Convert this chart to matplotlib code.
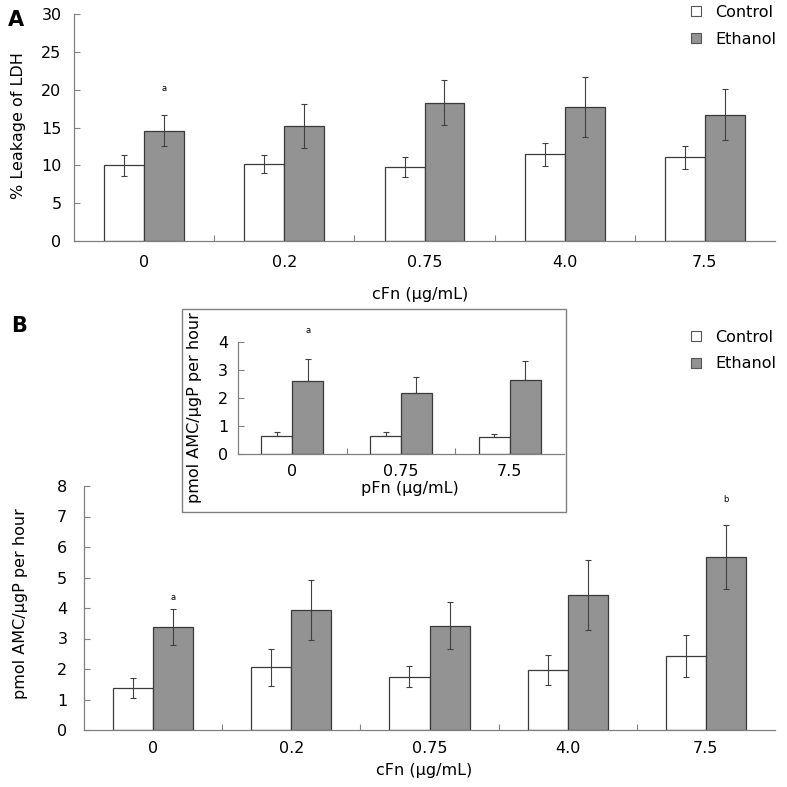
import numpy as np
import matplotlib.pyplot as plt
from matplotlib.patches import Patch, Rectangle

plt.rcParams.update({"font.family": "DejaVu Sans", "font.size": 11.5})

W = H = 787.0
GRAY_AXIS = "#808080"
BAR_EDGE = "#3a3a3a"
ETH_FILL = "#939393"
ERR_COL = "#404040"

# Panel A: % leakage of LDH vs cFn
conc_a = ["0", "0.2", "0.75", "4.0", "7.5"]
ldh_control = [10.0, 10.2, 9.8, 11.45, 11.05]
ldh_control_err = [1.4, 1.2, 1.3, 1.55, 1.55]
ldh_ethanol = [14.6, 15.2, 18.3, 17.7, 16.7]
ldh_ethanol_err = [2.1, 2.9, 2.95, 4.0, 3.4]

# Panel B: pmol AMC/ugP per hour vs cFn
conc_b = ["0", "0.2", "0.75", "4.0", "7.5"]
amc_control = [1.38, 2.05, 1.75, 1.97, 2.43]
amc_control_err = [0.33, 0.60, 0.35, 0.48, 0.70]
amc_ethanol = [3.38, 3.93, 3.42, 4.44, 5.67]
amc_ethanol_err = [0.58, 0.98, 0.78, 1.15, 1.05]

# Inset: pmol AMC/ugP per hour vs pFn
conc_inset = ["0", "0.75", "7.5"]
pfn_control = [0.63, 0.65, 0.59]
pfn_control_err = [0.14, 0.12, 0.13]
pfn_ethanol = [2.60, 2.16, 2.62]
pfn_ethanol_err = [0.78, 0.58, 0.68]


def px_axes(fig, left, right, top, bottom):
    """Axes placed by pixel edges (origin top-left)."""
    return fig.add_axes([left / W, 1 - bottom / H, (right - left) / W, (bottom - top) / H])


def draw_bars(ax, labels, ctrl, ctrl_err, eth, eth_err, width, one_sided=False):
    n = len(labels)
    x = np.arange(n) + 0.5
    ax.bar(x - width / 2, ctrl, width, color="white", edgecolor=BAR_EDGE, linewidth=0.9, zorder=2)
    ax.bar(x + width / 2, eth, width, color=ETH_FILL, edgecolor=BAR_EDGE, linewidth=0.9, zorder=2)
    for xs, vals, errs in [(x - width / 2, ctrl, ctrl_err), (x + width / 2, eth, eth_err)]:
        errs = np.asarray(errs)
        yerr = [np.zeros_like(errs), errs] if one_sided else errs
        ax.errorbar(xs, vals, yerr=yerr, fmt="none", ecolor=ERR_COL, elinewidth=0.8,
                    capsize=2.5, capthick=0.8, zorder=3)
    ax.set_xlim(0, n)
    ax.set_xticks(x, labels)
    ax.set_xticks(np.arange(1, n), minor=True)
    ax.tick_params(axis="x", which="major", length=0)
    ax.tick_params(axis="x", which="minor", direction="in", length=4, color=GRAY_AXIS, width=0.8)
    ax.tick_params(axis="y", direction="in", length=4, color=GRAY_AXIS, width=0.8)
    for s in ["top", "right"]:
        ax.spines[s].set_visible(False)
    for s in ["left", "bottom"]:
        ax.spines[s].set_color(GRAY_AXIS)
        ax.spines[s].set_linewidth(0.9)
    ax.set_facecolor("none")
    return x


def legend_handles():
    return [Patch(facecolor="white", edgecolor="#555555", linewidth=0.8, label="Control"),
            Patch(facecolor=ETH_FILL, edgecolor="#555555", linewidth=0.8, label="Ethanol")]


def add_legend(fig, top_px):
    fig.legend(handles=legend_handles(), loc="upper left", bbox_to_anchor=(691 / W, 1 - top_px / H),
               frameon=False, borderpad=0, borderaxespad=0, handlelength=0.6, handleheight=0.6,
               handletextpad=0.9, labelspacing=0.72)


fig = plt.figure(figsize=(W / 100, H / 100), dpi=100)

# ---- Panel A ----
axA = px_axes(fig, 74, 775, 14, 241)
xa = draw_bars(axA, conc_a, ldh_control, ldh_control_err, ldh_ethanol, ldh_ethanol_err, 0.285)
axA.set_ylim(0, 30)
axA.set_yticks(np.arange(0, 31, 5))
axA.tick_params(axis="x", pad=10)
axA.tick_params(axis="y", pad=9)
axA.text(xa[0] + 0.1425, 20.1, "a", ha="center", va="center", fontsize=6)
fig.text(19 / W, 1 - 126 / H, "% Leakage of LDH", rotation=90, ha="center", va="center")
fig.text(420 / W, 1 - 294 / H, "cFn (\u03bcg/mL)", ha="center", va="center")
fig.text(8 / W, 1 - 26 / H, "A", fontsize=15, fontweight="bold", ha="left", va="baseline")
add_legend(fig, 5)

# ---- Panel B main ----
axB = px_axes(fig, 84, 775, 486, 730)
xb = draw_bars(axB, conc_b, amc_control, amc_control_err, amc_ethanol, amc_ethanol_err, 0.29)
axB.set_ylim(0, 8)
axB.set_yticks(np.arange(0, 9, 1))
axB.tick_params(axis="x", pad=8)
axB.tick_params(axis="y", pad=12)
axB.text(xb[0] + 0.145, 4.35, "a", ha="center", va="center", fontsize=6)
axB.text(xb[-1] + 0.145, 7.56, "b", ha="center", va="center", fontsize=6, clip_on=False)
fig.text(21 / W, 1 - 604 / H, "pmol AMC/\u03bcgP per hour", rotation=90, ha="center", va="center")
fig.text(424 / W, 1 - 770 / H, "cFn (\u03bcg/mL)", ha="center", va="center")
fig.text(11 / W, 1 - 332 / H, "B", fontsize=15, fontweight="bold", ha="left", va="baseline")
add_legend(fig, 330)

# ---- Inset ----
fig.add_artist(Rectangle((182 / W, 1 - 512 / H), (566 - 182) / W, (512 - 309) / H,
                         transform=fig.transFigure, facecolor="white", edgecolor=GRAY_AXIS,
                         linewidth=1.0, zorder=5))
axI = px_axes(fig, 238, 564, 341.7, 454)
axI.set_zorder(6)
xi = draw_bars(axI, conc_inset, pfn_control, pfn_control_err, pfn_ethanol, pfn_ethanol_err,
               0.285, one_sided=True)
axI.set_ylim(0, 4)
axI.set_yticks(np.arange(0, 5, 1))
axI.tick_params(axis="x", pad=7)
axI.tick_params(axis="y", pad=7)
axI.text(xi[0] + 0.1425, 4.39, "a", ha="center", va="center", fontsize=6, clip_on=False)
fig.text(195 / W, 1 - 408 / H, "pmol AMC/\u03bcgP per hour", rotation=90, ha="center",
         va="center", zorder=7)
fig.text(410 / W, 1 - 489 / H, "pFn (\u03bcg/mL)", ha="center", va="center", zorder=7)

fig.savefig("out.png", dpi=100)
